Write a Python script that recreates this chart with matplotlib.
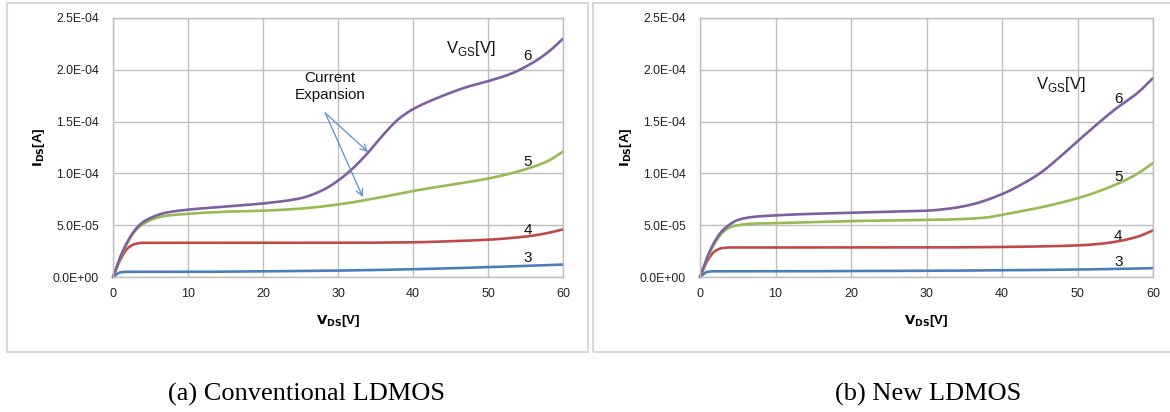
import matplotlib
matplotlib.use("Agg")
import matplotlib.pyplot as plt
from matplotlib.patches import Rectangle
import numpy as np
from matplotlib.ticker import FuncFormatter

# ---------------- data ----------------
# (a) Conventional LDMOS
a_x6 = [0, 1, 2, 3, 4, 5, 7, 10, 15, 20, 25, 28, 30, 32, 34, 36, 38, 40, 42, 44, 47, 50, 53, 56, 58, 60]
a_y6 = [0, 2.0e-5, 3.5e-5, 4.6e-5, 5.3e-5, 5.7e-5, 6.2e-5, 6.5e-5, 6.8e-5, 7.1e-5, 7.6e-5, 8.4e-5,
        9.3e-5, 1.05e-4, 1.2e-4, 1.37e-4, 1.52e-4, 1.62e-4, 1.69e-4, 1.75e-4, 1.83e-4, 1.89e-4,
        1.96e-4, 2.07e-4, 2.17e-4, 2.30e-4]
a_x5 = [0, 1, 2, 3, 4, 5, 7, 10, 15, 20, 25, 30, 35, 40, 45, 50, 55, 58, 60]
a_y5 = [0, 1.9e-5, 3.4e-5, 4.5e-5, 5.1e-5, 5.5e-5, 5.9e-5, 6.1e-5, 6.3e-5, 6.4e-5, 6.6e-5, 7.0e-5,
        7.6e-5, 8.3e-5, 8.9e-5, 9.5e-5, 1.04e-4, 1.12e-4, 1.21e-4]
a_x4 = [0, 1, 2, 3, 4, 5, 10, 20, 30, 40, 45, 50, 55, 58, 60]
a_y4 = [0, 1.7e-5, 2.8e-5, 3.2e-5, 3.3e-5, 3.3e-5, 3.3e-5, 3.3e-5, 3.3e-5, 3.35e-5, 3.45e-5, 3.6e-5,
        3.9e-5, 4.25e-5, 4.6e-5]
a_x3 = [0, 1, 2, 5, 10, 20, 30, 40, 50, 60]
a_y3 = [0, 0.45e-5, 0.5e-5, 0.5e-5, 0.5e-5, 0.55e-5, 0.62e-5, 0.75e-5, 0.95e-5, 1.2e-5]

# (b) New LDMOS
b_x6 = [0, 1, 2, 3, 4, 5, 7, 10, 15, 20, 25, 30, 33, 36, 40, 43, 45, 48, 50, 53, 55, 58, 60]
b_y6 = [0, 2.0e-5, 3.5e-5, 4.5e-5, 5.1e-5, 5.5e-5, 5.8e-5, 5.95e-5, 6.1e-5, 6.2e-5, 6.3e-5, 6.4e-5,
        6.6e-5, 7.0e-5, 8.0e-5, 9.1e-5, 1.0e-4, 1.18e-4, 1.31e-4, 1.5e-4, 1.62e-4, 1.78e-4, 1.92e-4]
b_x5 = [0, 1, 2, 3, 4, 5, 7, 10, 15, 20, 25, 30, 35, 38, 40, 45, 50, 55, 58, 60]
b_y5 = [0, 1.9e-5, 3.3e-5, 4.3e-5, 4.8e-5, 5.0e-5, 5.15e-5, 5.2e-5, 5.3e-5, 5.4e-5, 5.45e-5, 5.5e-5,
        5.6e-5, 5.75e-5, 6.0e-5, 6.7e-5, 7.6e-5, 8.9e-5, 1.0e-4, 1.1e-4]
b_x4 = [0, 1, 2, 3, 4, 5, 10, 20, 30, 40, 45, 50, 53, 55, 58, 60]
b_y4 = [0, 1.6e-5, 2.5e-5, 2.8e-5, 2.85e-5, 2.85e-5, 2.85e-5, 2.85e-5, 2.85e-5, 2.9e-5, 2.95e-5,
        3.05e-5, 3.2e-5, 3.4e-5, 3.9e-5, 4.5e-5]
b_x3 = [0, 1, 2, 5, 10, 20, 30, 40, 50, 60]
b_y3 = [0, 0.5e-5, 0.55e-5, 0.55e-5, 0.55e-5, 0.58e-5, 0.6e-5, 0.65e-5, 0.72e-5, 0.85e-5]

vgs_labels = ["3", "4", "5", "6"]
captions = ["(a) Conventional LDMOS", "(b) New LDMOS"]
x_ticks = [0, 10, 20, 30, 40, 50, 60]
y_ticks = [0, 5e-5, 1e-4, 1.5e-4, 2e-4, 2.5e-4]

colors = {"3": "#4A7EBB", "4": "#BE4B48", "5": "#98B954", "6": "#7D60A0"}


def pchip(x, y, xn):
    """Monotone cubic (Fritsch-Carlson) interpolation for a smooth Excel-like curve."""
    x = np.asarray(x, float)
    y = np.asarray(y, float)
    h = np.diff(x)
    d = np.diff(y) / h
    m = np.zeros_like(y)
    for i in range(1, len(y) - 1):
        if d[i - 1] * d[i] <= 0:
            m[i] = 0
        else:
            w1 = 2 * h[i] + h[i - 1]
            w2 = h[i] + 2 * h[i - 1]
            m[i] = (w1 + w2) / (w1 / d[i - 1] + w2 / d[i])
    m[0] = d[0]
    m[-1] = d[-1]
    idx = np.clip(np.searchsorted(x, xn) - 1, 0, len(x) - 2)
    t = (xn - x[idx]) / h[idx]
    h00 = 2 * t**3 - 3 * t**2 + 1
    h10 = t**3 - 2 * t**2 + t
    h01 = -2 * t**3 + 3 * t**2
    h11 = t**3 - t**2
    return h00 * y[idx] + h10 * h[idx] * m[idx] + h01 * y[idx + 1] + h11 * h[idx] * m[idx + 1]


W, H = 1170, 412
fig = plt.figure(figsize=(W / 100, H / 100), dpi=100)
fig.patch.set_facecolor("white")

# panel borders
for (x0, x1) in [(7, 588), (593, 1172)]:
    fig.patches.append(Rectangle((x0 / W, 1 - 352 / H), (x1 - x0) / W, (352 - 3) / H,
                                 transform=fig.transFigure, fill=False,
                                 edgecolor="#D9D9D9", linewidth=1.5))


def fmt(v, pos):
    return "%.1E" % v


def setup(ax):
    ax.set_xlim(0, 60)
    ax.set_ylim(0, 2.5e-4)
    ax.set_xticks(x_ticks)
    ax.set_yticks(y_ticks)
    ax.yaxis.set_major_formatter(FuncFormatter(fmt))
    ax.grid(True, color="#BEBEBE", linewidth=1.0)
    ax.set_axisbelow(True)
    for sp in ax.spines.values():
        sp.set_color("#BEBEBE")
        sp.set_linewidth(1.0)
    ax.tick_params(axis="y", length=0, pad=10, labelsize=8.8, labelcolor="#222222")
    ax.tick_params(axis="x", length=0, pad=8, labelsize=9, labelcolor="#222222")
    for lab in ax.get_xticklabels() + ax.get_yticklabels():
        lab.set_family("Liberation Sans")
    ax.set_xlabel(r"$\mathbf{V_{DS}}$" + "[V]", fontsize=9.5, fontweight="bold",
                  family="Liberation Sans", labelpad=9)
    ax.set_ylabel(r"$\mathbf{I_{DS}}$" + "[A]", fontsize=9.5, fontweight="bold",
                  family="Liberation Sans", labelpad=4)


axA = fig.add_axes([113 / W, 1 - 277 / H, 450 / W, 259 / H])
axB = fig.add_axes([700 / W, 1 - 277 / H, 453 / W, 259 / H])

xx = np.linspace(0, 60, 600)
for ax, series in [(axA, [(a_x3, a_y3, "3"), (a_x4, a_y4, "4"), (a_x5, a_y5, "5"), (a_x6, a_y6, "6")]),
                   (axB, [(b_x3, b_y3, "3"), (b_x4, b_y4, "4"), (b_x5, b_y5, "5"), (b_x6, b_y6, "6")])]:
    setup(ax)
    for xs, ys, k in series:
        ax.plot(xx, pchip(xs, ys, xx), color=colors[k], linewidth=1.9,
                solid_capstyle="round", clip_on=False)

numfont = dict(family="Liberation Sans", fontsize=11, color="#111111")
vgsfont = dict(family="Liberation Sans", fontsize=12, color="#111111")
# labels panel A
axA.text(44.4, 2.21e-4, r"V$_{\mathregular{GS}}$[V]", va="center", ha="left", **vgsfont)
for t, y in zip(vgs_labels, [0.186e-4, 0.45e-4, 1.11e-4, 2.13e-4]):
    axA.text(55.3, y, t, va="center", ha="center", **numfont)
axB.text(44.5, 1.86e-4, r"V$_{\mathregular{GS}}$[V]", va="center", ha="left", **vgsfont)
for t, y in zip(vgs_labels, [0.14e-4, 0.40e-4, 0.97e-4, 1.72e-4]):
    axB.text(55.4, y, t, va="center", ha="center", **numfont)

axA.text(28.9, 1.84e-4, "Current\nExpansion", ha="center", va="center",
         linespacing=1.25, family="Liberation Sans", fontsize=11, color="#111111")
for end in [(34.0, 1.207e-4), (33.3, 0.772e-4)]:
    axA.annotate("", xy=end, xytext=(28.3, 1.583e-4),
                 arrowprops=dict(arrowstyle="->", color="#5B8FC7", lw=0.9,
                                 shrinkA=0, shrinkB=0, mutation_scale=12))

for cap, cx in zip(captions, [307, 928]):
    fig.text(cx / W, 1 - 394 / H, cap, ha="center", va="center",
             family="Liberation Serif", fontsize=19, color="black")

fig.savefig("out.png", dpi=100, facecolor="white")
